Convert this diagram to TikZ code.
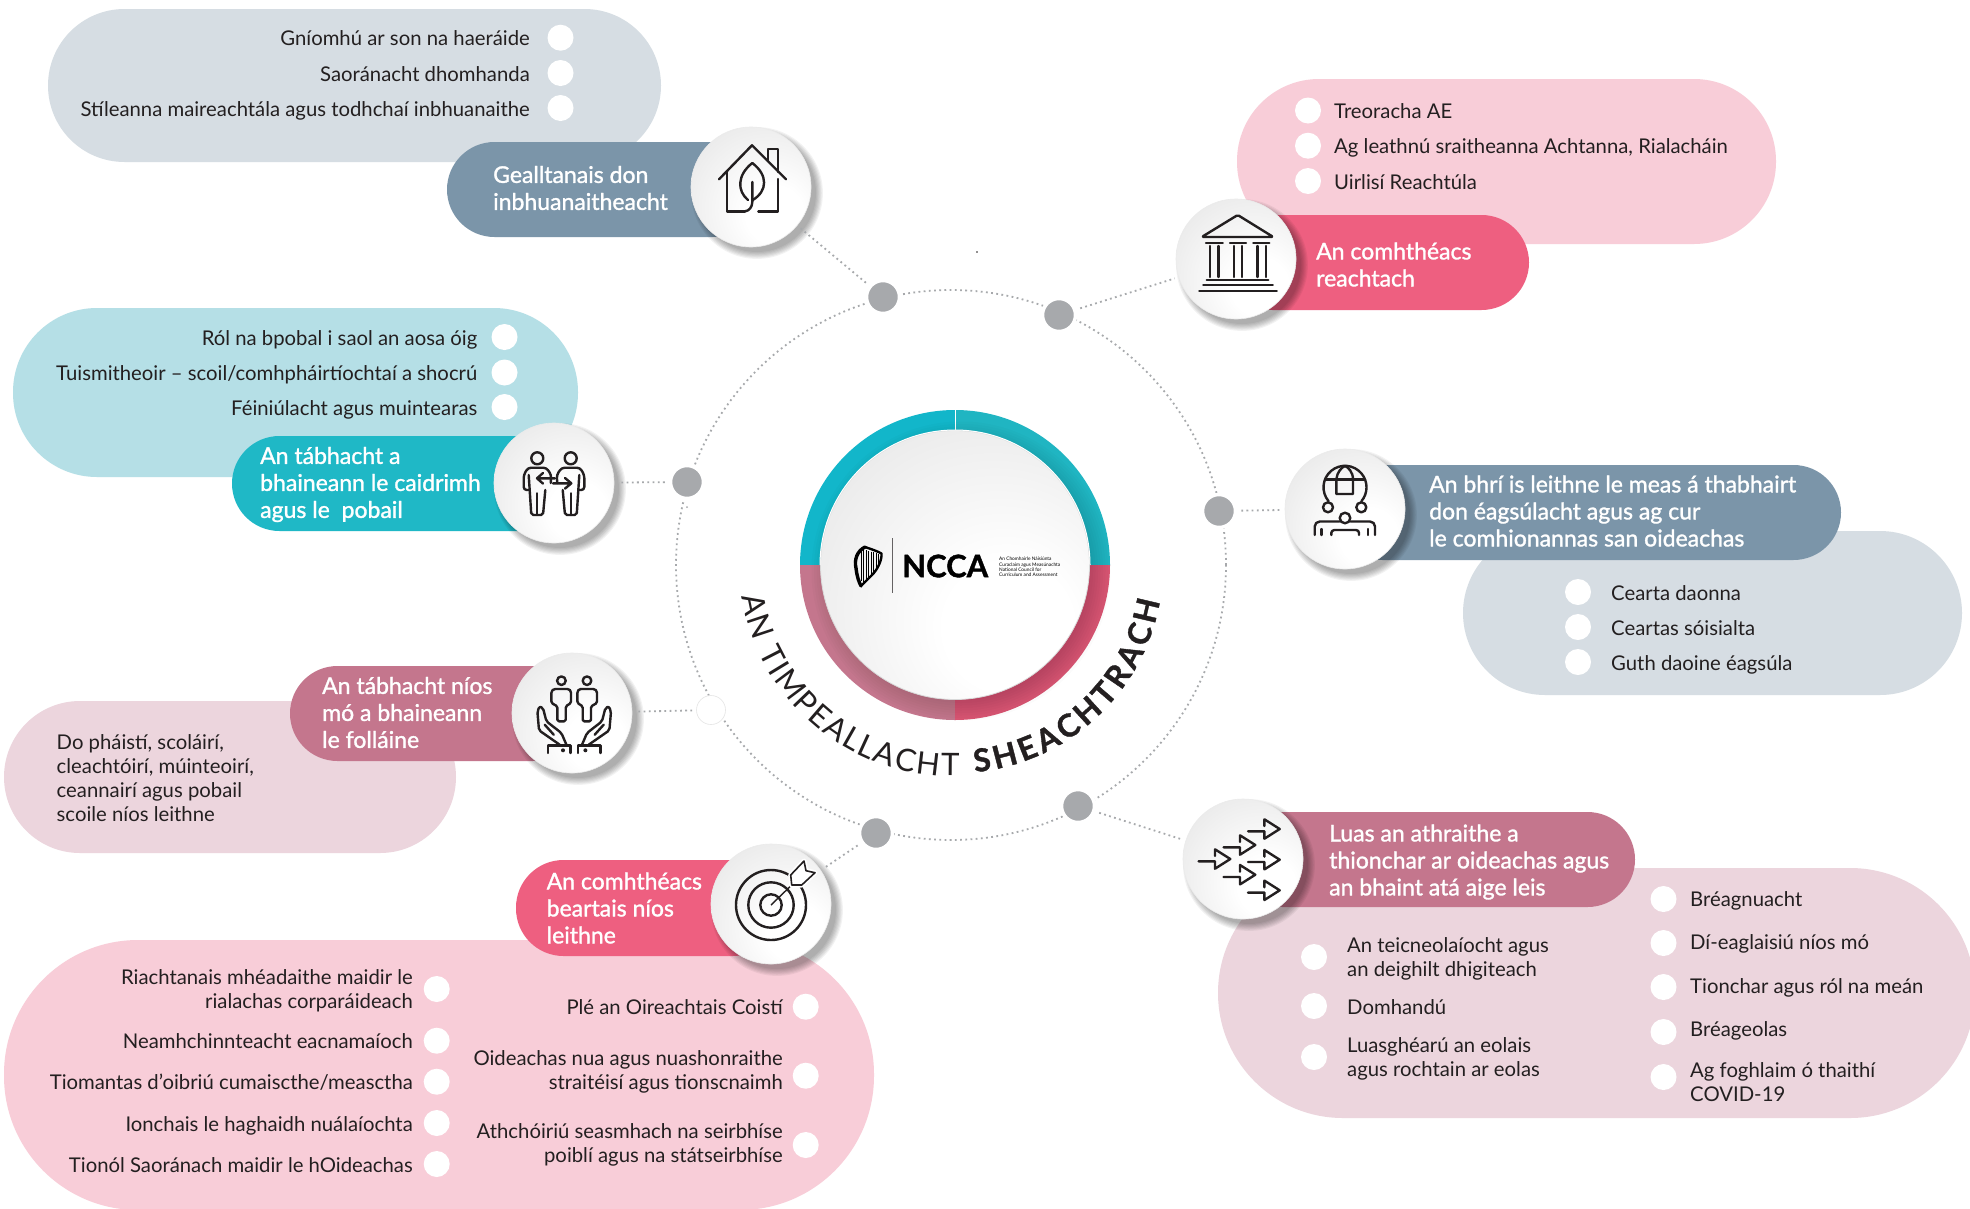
\documentclass[tikz,border=0pt]{standalone}
\usepackage{fontspec}
\setmainfont{Lato}
\newfontfamily\semib[FakeBold=1.3]{Lato}
\newfontfamily\heavyf[BoldFeatures={FakeBold=1.2}]{Lato}
\usetikzlibrary{decorations.text,calc}
\definecolor{ink}{HTML}{231F20}
\definecolor{lgray}{HTML}{D6DDE3}
\definecolor{dslate}{HTML}{7B95A9}
\definecolor{lpink}{HTML}{F8CDD8}
\definecolor{dpink}{HTML}{EE5F80}
\definecolor{lblue}{HTML}{B5DFE6}
\definecolor{dteal}{HTML}{1FB8C6}
\definecolor{lrose}{HTML}{ECD5DD}
\definecolor{drose}{HTML}{C4768D}
\definecolor{dotgray}{HTML}{A7A9AC}
\definecolor{ringa}{HTML}{12B6CA}
\definecolor{ringb}{HTML}{20B5C2}
\definecolor{ringd}{HTML}{DA5673}
\pgfdeclareradialshading{discsh}{\pgfpoint{12bp}{-14bp}}{
 color(0bp)=(white); color(12bp)=(white); color(30bp)=(white!94!black); color(50bp)=(white!87!black); color(70bp)=(white!80!black)}
\newcommand\curvereg{\fontsize{31}{38}\selectfont}
\newcommand\curvebold{\fontsize{31.5}{38}\selectfont\heavyf\bfseries}
\tikzset{
 pic txt/.style={inner sep=0pt,yshift=-3.2pt,text=ink,font=\fontsize{20.3}{24}\selectfont,execute at begin node=\strut,execute at end node=\strut},
 txtr/.style={pic txt,anchor=east,align=right},
 txtl/.style={pic txt,anchor=west,align=left},
 bartxt/.style={inner sep=0pt,anchor=west,align=left,text=white,font=\fontsize{23}{27}\selectfont\semib},
 bul/.style={circle,fill=white,inner sep=0pt,minimum size=26pt},
 dotline/.style={draw=dotgray,line width=1.8pt,dash pattern=on 1.8pt off 3.4pt},
 conn/.style={dotline,shorten >=4pt,shorten <=4pt},
 hub/.style={circle,fill=dotgray,draw=white,line width=3.5pt,inner sep=0pt,minimum size=33pt},
 iconc/.style={circle,inner sep=0pt,minimum size=120pt,shading=discsh,draw=white!92!black,line width=.6pt},
 iconl/.style={draw=ink,line width=2.4pt,line join=round,line cap=round},
}
\newcommand\shad[3]{\foreach \k in {0,...,6}{\fill[black,opacity=.05] ({#1+6},{-#2-6}) circle ({#3-1+\k*1.15});}}
\begin{document}
\begin{tikzpicture}[x=1pt,y=1pt]
\clip (0,0) rectangle (1970,-1208);
\fill[white] (0,0) rectangle (1970,-1208);
% light pills
\fill[lgray,rounded corners=76.5pt] (48,-9) rectangle (661,-162);
\fill[lpink,rounded corners=82pt] (1237,-79) rectangle (1776,-244);
\fill[lblue,rounded corners=84pt] (13,-308) rectangle (578,-477);
\fill[lgray,rounded corners=82pt] (1463,-531) rectangle (1962,-695);
\fill[lrose,rounded corners=76pt] (4,-701) rectangle (456,-853);
\fill[lpink,rounded corners=134pt] (4,-940) rectangle (874,-1210);
\fill[lrose,rounded corners=125pt] (1218,-868) rectangle (1975,-1118);
% dark bars
\fill[dslate,rounded corners=47.5pt] (447,-142) rectangle (760,-237);
\fill[dpink,rounded corners=47.5pt] (1225,-215) rectangle (1529,-310);
\fill[dslate,rounded corners=47.5pt] (1335,-465) rectangle (1841,-560);
\fill[dteal,rounded corners=47.5pt] (232,-436) rectangle (565,-531);
\fill[drose,rounded corners=47.5pt] (290,-666) rectangle (580,-761);
\fill[dpink,rounded corners=47.5pt] (516,-860) rectangle (780,-956);
\fill[drose,rounded corners=47.5pt] (1235,-812) rectangle (1635,-907);
% big dotted circle
\draw[dotline] (951,-565) circle (275);
% specks
\fill[ink] (977,-252) circle (.8);
\fill[dotgray] (687,-507) circle (1);
% hubs
\node[hub] (d1) at (883,-297) {};
\node[hub] (d2) at (1059,-315) {};
\node[hub] (d3) at (1219,-511) {};
\node[hub] (d4) at (687,-482) {};
\node[circle,fill=white,draw=white!90!black,line width=.6pt,inner sep=0pt,minimum size=29pt] (d5) at (711,-710) {};
\node[hub] (d6) at (876,-833) {};
\node[hub] (d7) at (1078,-806) {};
% icon shadows
\shad{751}{187}{60}\shad{1236}{259}{60}\shad{1345}{509}{60}\shad{554}{483}{60}
\shad{572}{713}{60}\shad{771}{904}{60}\shad{1243}{859}{60}
% icon circles
\node[iconc] (i1) at (751,-187) {};
\node[iconc] (i2) at (1236,-259) {};
\node[iconc] (i3) at (1345,-509) {};
\node[iconc] (i4) at (554,-483) {};
\node[iconc] (i5) at (572,-713) {};
\node[iconc] (i6) at (771,-904) {};
\node[iconc] (i7) at (1243,-859) {};
% connectors
\draw[conn] (d1) -- (i1);
\draw[conn] (d2) -- (i2);
\draw[conn] (d3) -- (i3);
\draw[conn] (d4) -- (i4);
\draw[conn] (d5) -- (i5);
\draw[conn] (d6) -- (i6);
\draw[conn] (d7) -- (i7);
% centre ring
\fill[ringa] (955,-565) -- (800,-565) arc[start angle=180,end angle=90,radius=155] -- cycle;
\fill[ringb] (955,-565) -- (955,-410) arc[start angle=90,end angle=0,radius=155] -- cycle;
\fill[drose] (955,-565) -- (955,-720) arc[start angle=270,end angle=180,radius=155] -- cycle;
\fill[ringd] (955,-565) -- (1110,-565) arc[start angle=0,end angle=-90,radius=155] -- cycle;
\draw[white,line width=.6pt] (955,-410) -- (955,-430);
\foreach \k in {0,...,9}{\fill[black,opacity=.014] (961,-571) circle ({127+\k*2.5});}
\node[circle,inner sep=0pt,minimum size=269pt,shading=discsh,draw=white!85!black,line width=.8pt] (disc) at (955,-565) {};
\draw[white,line width=1pt] (955,-565) ++(135,0) arc[start angle=0,end angle=180,radius=135];
% logo
\begin{scope}[shift={(868,-566)}]
\draw[black,line width=3.4pt,line cap=round] (-3,19) .. controls (-11,15) and (-14,6) .. (-12,-2) .. controls (-11,-11) and (-9,-16) .. (-7,-20);
\draw[black,line width=2.4pt,line cap=round,line join=round] (-3,19) .. controls (3,17) and (9,15) .. (13.5,12.5) .. controls (14,5) and (9,-4) .. (4,-9) .. controls (0,-13) and (-4,-17) .. (-7,-20);
\foreach \x/\a/\b in {-7/16/-15,-4.5/16/-16,-2/16/-14,.5/15/-11,3/14.5/-8,5.5/14/-6,8/13/-3,10.5/12/1}{\draw[black,line width=1pt] (\x,\a) -- (\x,\b);}
\end{scope}
\draw[ink!70,line width=.7pt] (892.5,-538) -- (892.5,-593);
\node[inner sep=0pt,anchor=west,text=black,font=\fontsize{31}{31}\selectfont\heavyf\bfseries] (ncca) at (902,-566) {NCCA};
\node[inner sep=0pt,anchor=west,align=left,text=black,font=\fontsize{4.8}{5.3}\selectfont] (nccas) at (999,-567) {An Chomhairle Náisiúnta\\Curaclaim agus Measúnachta\\National Council for\\Curriculum and Assessment};
% curved title
\path[decorate,decoration={text along path,text color=ink,text align={fit to path},
 text={|\curvereg|AN TIMPEALLACHT}}]
 ({952+213*cos(189)},{-563+213*sin(189)}) arc[start angle=189,end angle=272,radius=213];
\path[decorate,decoration={text along path,text color=ink,text align={fit to path},
 text={|\curvebold|SHEACHTRACH}}]
 ({955+208*cos(275.5)},{-565+208*sin(275.5)}) arc[start angle=275.5,end angle=350,radius=208];
% icon 1 house
\begin{scope}[shift={(751,-187)}]
\draw[iconl] (-32,7.7) -- (1,41.7) -- (35,7.7);
\draw[iconl] (17,26.7) -- (17,38.3) -- (27,38.3) -- (27,15);
\draw[iconl] (-24.3,15) -- (-24.3,-24.3) -- (-6,-24.3);
\draw[iconl] (27,8) -- (27,-24.3) -- (7.3,-24.3);
\draw[iconl] (1.3,24) .. controls (-14,12) and (-14,-4) .. (-3,-13) (1.3,24) .. controls (17,12) and (17,-4) .. (1.3,-13.3);
\draw[iconl] (1.3,5) -- (1.3,-15) .. controls (1.3,-20) and (-2,-24) .. (-6,-24.3);
\end{scope}
% icon 2 temple
\begin{scope}[shift={(1236,-259)}]
\draw[iconl,rounded corners=1.5pt] (1.7,44) -- (-34.3,22) -- (37.3,22) -- cycle;
\foreach \a/\b in {-30/-13.3,-6/10,17.3/33.3}{\draw[iconl] (\a,16) -- (\b,16);}
\foreach \a in {-26,-17.7,-2,5.7,21.3,30}{\draw[iconl] (\a,13) -- (\a,-18);}
\draw[iconl] (-29.3,-20.7) -- (32.3,-20.7);
\draw[iconl] (-32.7,-26) -- (36.7,-26);
\draw[iconl] (-36.7,-31.7) -- (40.7,-31.7);
\end{scope}
% icon 3 globe people
\begin{scope}[shift={(1345,-509)}]
\draw[iconl] (0,21.7) ++(220:21.5) arc[start angle=220,end angle=-40,radius=21.5];
\draw[iconl] (-20,29.7) -- (20,29.7);
\draw[iconl] (-8.7,15) -- (-8.7,29.7) .. controls (-8,37) and (-3,42) .. (0,43) .. controls (3,42) and (8,37) .. (8,29.7) -- (8,15) -- cycle;
\draw[iconl] (-17,1.7) circle (5);
\draw[iconl] (16.3,1.7) circle (5);
\draw[iconl] (0,-9) circle (5.3);
\draw[iconl,rounded corners=5pt] (-30.3,-26) -- (-30.3,-12.5) -- (-5.5,-12.5);
\draw[iconl,rounded corners=5pt] (30,-26) -- (30,-12.5) -- (5.5,-12.5);
\draw[iconl] (-23.7,-20) -- (-23.7,-26) (23,-20) -- (23,-26);
\draw[iconl,rounded corners=3pt] (-13.7,-26) -- (-13.7,-21) -- (14,-21) -- (14,-26);
\end{scope}
% icon 4 two people
\begin{scope}[shift={(554,-483)}]
\foreach \s in {1,-1}{
\begin{scope}[xscale=\s]
\draw[iconl] (-16.7,24.7) circle (6);
\draw[iconl,rounded corners=2pt] (-25.3,8) -- (-22.7,-32) -- (-11,-32) -- (-8.7,-7);
\draw[iconl] (-17,-10.3) -- (-17,-32);
\draw[iconl,rounded corners=3pt] (-25.3,-7) -- (-30.3,-7) -- (-30.3,8) -- (-26,15.3) -- (-7.7,15.3) -- (-2.7,8) -- (-3.3,0);
\end{scope}}
\draw[iconl] (1,4.7) -- (-17,4.7) (-11,10) -- (-17,4.7) -- (-11,-.6);
\draw[iconl] (-1,-.3) -- (17.3,-.3) (11,5) -- (17.3,-.3) -- (11,-5.6);
\end{scope}
% icon 5 hands
\begin{scope}[shift={(574.2,-713)}]
\foreach \s in {1,-1}{
\begin{scope}[xscale=\s]
\draw[iconl] (-12.8,32.3) circle (4.3);
\draw[iconl,rounded corners=1.5pt] (-22.8,21.7) -- (-20.5,24) -- (-5.2,24) -- (-3.2,21.7) -- (-3.2,10) -- (-8.5,6.7) -- (-8.5,-8.3) -- (-16.8,-8.3) -- (-16.8,6.7) -- (-22.8,10) -- cycle;
\draw[iconl,rounded corners=2pt] (-7.8,-31.7) -- (-12.8,-20) -- (-27.8,-8.3) -- (-31.2,5) -- (-34.5,6.7) -- (-36.8,1.7) -- (-35.2,-17.3) -- (-14.5,-31.7);
\draw[iconl] (-29.5,-11.7) -- (-20.5,-21.7);
\draw[iconl] (-26.2,-40) -- (-26.2,-32.3) -- (-3.8,-32.3) -- (-3.8,-40);
\fill[ink] (-11.2,-37.3) circle (2);
\end{scope}}
\end{scope}
% icon 6 target
\begin{scope}[shift={(771,-904)}]
\draw[iconl] (0,-1) circle (35) (0,-1) circle (22.7) (0,-1) circle (10.7);
\draw[ink,line width=1.4pt] (0,-1) -- (20.7,19);
\draw[white,line width=5pt,line join=round,fill=white] (20.7,19) -- (19.7,29) -- (33,43) -- (35,33.3) -- (44,31.3) -- (30.7,19) -- cycle;
\draw[ink,line width=1.6pt,line join=round,fill=white] (20.7,19) -- (19.7,29) -- (33,43) -- (35,33.3) -- (44,31.3) -- (30.7,19) -- cycle;
\end{scope}
% icon 7 arrows
\begin{scope}[shift={(1243,-859)}]
\foreach \x/\y in {36.7/30,12.3/14,-12.7/0,36.7/-.7,12.3/-15.7,36.7/-31.3}{
\draw[iconl] ({\x-31.7},{\y-2.3}) -- ({\x-15.3},{\y-2.3}) -- ({\x-15.3},{\y-9.7}) -- (\x,\y) -- ({\x-15.3},{\y+9.7}) -- ({\x-15.3},{\y+3});
}
\end{scope}
% bar labels
\node[bartxt] (t1) at (493,-188) {Gealltanais don\\inbhuanaitheacht};
\node[bartxt] (t2) at (1316,-264.5) {An comhthéacs\\reachtach};
\node[bartxt] (t3) at (1429,-511) {An bhrí is leithne le meas á thabhairt\\don éagsúlacht agus ag cur\\le comhionannas san oideachas};
\node[bartxt] (t4) at (260,-484.5) {An tábhacht a\\bhaineann le caidrimh\\agus le\ \ pobail};
\node[bartxt] (t5) at (322,-712.5) {An tábhacht níos\\mó a bhaineann\\le folláine};
\node[bartxt] (t6) at (546.5,-908) {An comhthéacs\\beartais níos\\leithne};
\node[bartxt] (t7) at (1329,-862) {Luas an athraithe a\\thionchar ar oideachas agus\\an bhaint atá aige leis};
% list 1
\foreach \n/\y/\t in {a/37.7/{Gníomhú ar son na haeráide},b/73/{Saoránacht dhomhanda},c/108/{Stíleanna maireachtála agus todhchaí inbhuanaithe}}{
 \node[bul] (b1\n) at (560.5,-\y) {};
 \node[txtr] (p1\n) at (530,-\y) {\t};}
% list 3
\foreach \n/\y/\t in {a/337/{Ról na bpobal i saol an aosa óig},b/372.5/{Tuismitheoir – scoil/comhpháirtíochtaí a shocrú},c/407/{Féiniúlacht agus muintearas}}{
 \node[bul] (b3\n) at (504.5,-\y) {};
 \node[txtr] (p3\n) at (477.5,-\y) {\t};}
% list 2
\foreach \n/\y/\t in {a/110.5/{Treoracha AE},b/145.7/{Ag leathnú sraitheanna Achtanna, Rialacháin},c/181/{Uirlisí Reachtúla}}{
 \node[bul] (b2\n) at (1308,-\y) {};
 \node[txtl] (p2\n) at (1334,-\y) {\t};}
% list 4
\foreach \n/\y/\t in {a/592/{Cearta daonna},b/627/{Ceartas sóisialta},c/662/{Guth daoine éagsúla}}{
 \node[bul] (b4\n) at (1578,-\y) {};
 \node[txtl] (p4\n) at (1611,-\y) {\t};}
% list 5
\node[txtl] (p5) at (56.5,-778.5) {Do pháistí, scoláirí,\\cleachtóirí, múinteoirí,\\ceannairí agus pobail\\scoile níos leithne};
% list 6 left
\foreach \n/\y/\t in {a/989/{Riachtanais mhéadaithe maidir le\\rialachas corparáideach},b/1040.7/{Neamhchinnteacht eacnamaíoch},c/1081.7/{Tiomantas d’oibriú cumaiscthe/measctha},d/1123/{Ionchais le haghaidh nuálaíochta},e/1164/{Tionól Saoránach maidir le hOideachas}}{
 \node[bul] (b6\n) at (436.7,-\y) {};
 \node[txtr] (p6\n) at (413,-\y) {\t};}
% list 6 right
\foreach \n/\y/\ty/\t in {a/1006.7/1006.7/{Plé an Oireachtais Coistí},b/1075.7/1070/{Oideachas nua agus nuashonraithe\\straitéisí agus tionscnaimh},c/1145/1143/{Athchóiriú seasmhach na seirbhíse\\poiblí agus na státseirbhíse}}{
 \node[bul] (b8\n) at (805.7,-\y) {};
 \node[txtr] (p8\n) at (783,-\ty) {\t};}
% list 7 left
\foreach \n/\y/\t in {a/957/{An teicneolaíocht agus\\an deighilt dhigiteach},b/1006/{Domhandú},c/1057/{Luasghéarú an eolais\\agus rochtain ar eolas}}{
 \node[bul] (b7\n) at (1314,-\y) {};
 \node[txtl] (p7\n) at (1347,-\y) {\t};}
% list 7 right
\foreach \n/\y/\ty/\t in {a/899/898/{Bréagnuacht},b/943/941/{Dí-eaglaisiú níos mó},c/987/985/{Tionchar agus ról na meán},d/1032/1028/{Bréageolas},e/1077/1082/{Ag foghlaim ó thaithí\\COVID-19}}{
 \node[bul] (b9\n) at (1663.5,-\y) {};
 \node[txtl] (p9\n) at (1690,-\ty) {\t};}
\end{tikzpicture}
\end{document}
